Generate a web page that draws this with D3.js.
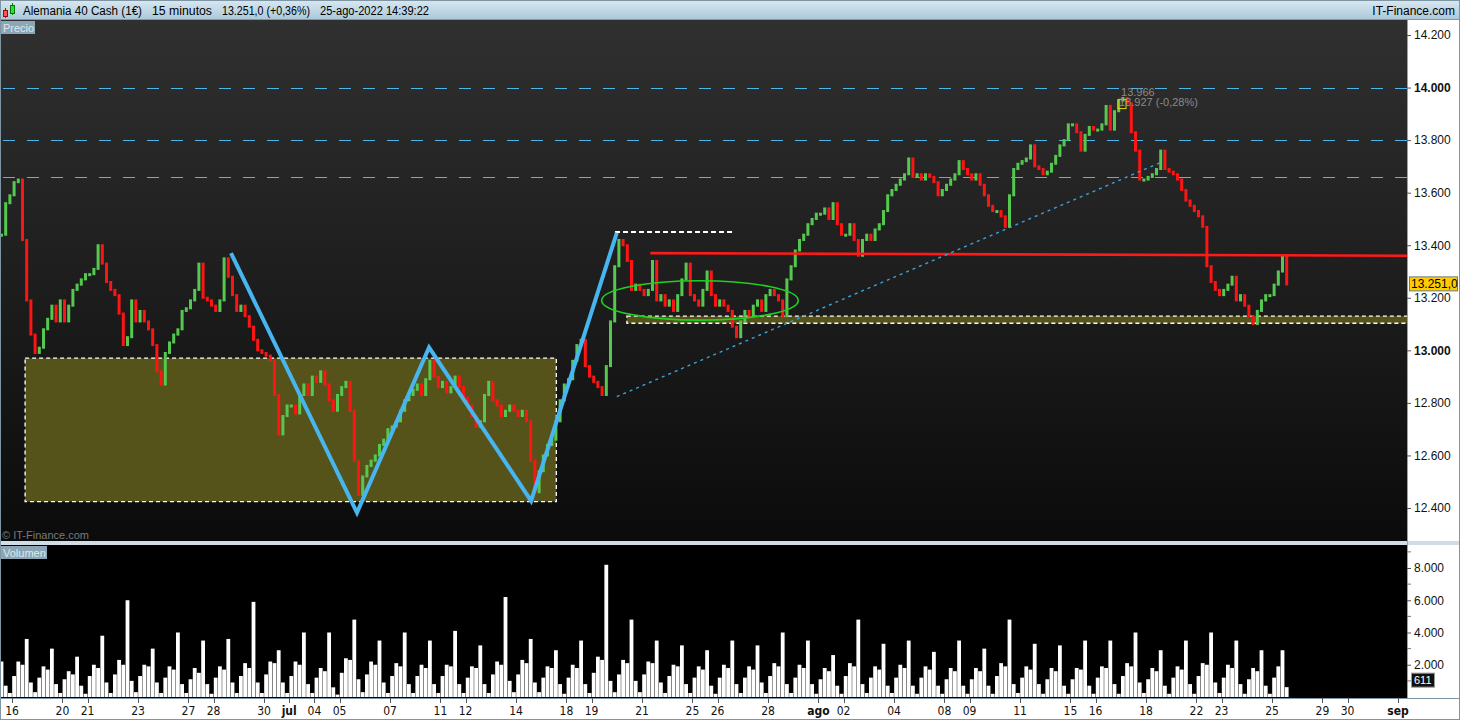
<!DOCTYPE html>
<html><head><meta charset="utf-8">
<script src="https://cdn.jsdelivr.net/npm/d3@7"></script>
<style>body{margin:0;background:#fff;overflow:hidden}svg{display:block;font-family:'Liberation Sans',Arial,sans-serif}</style>
</head><body><svg id="c" width="1460" height="720"></svg>
<script>
// ---------- DATA ----------
// trading days, index -1 = 15-jun (partial), 0 = 16-jun ... 50 = 25-ago (partial)
const firstDayIndex = -1;
const firstDayBarOffset = 3;          // 15-jun starts with its 4th slot
const barsPerDay = 6;
const priceCloses = [
  [13440,13560,13590],
  [13640,13650,13420,13190,13060,12990],
  [13010,13080,13120,13170,13110,13190],
  [13110,13170,13230,13250,13270,13290],
  [13290,13310,13400,13330,13260,13230],
  [13210,13140,13020,13050,13190,13110],
  [13150,13110,13080,13020,12920,12870],
  [12990,13030,13060,13080,13150,13160],
  [13190,13230,13330,13200,13190,13170],
  [13150,13190,13350,13280,13210,13150],
  [13170,13130,13090,13040,13000,12990],
  [12980,12960,12830,12680,12750,12790],
  [12790,12760,12830,12870,12830,12900],
  [12880,12920,12870,12810,12770,12830],
  [12860,12880,12770,12580,12450,12520],
  [12560,12580,12600,12640,12660,12700],
  [12710,12730,12770,12810,12830,12850],
  [12870,12830,12890,12960,12900,12860],
  [12880,12840,12860,12900,12860,12820],
  [12790,12750,12710,12730,12830,12880],
  [12810,12790,12750,12770,12790,12770],
  [12750,12770,12730,12580,12460,12540],
  [12600,12640,12660,12730,12810,12870],
  [12890,12960,13020,13040,12940,12900],
  [12880,12860,12830,12940,13110,13320],
  [13420,13400,13340,13230,13250,13230],
  [13210,13230,13340,13190,13210,13170],
  [13190,13150,13210,13270,13330,13210],
  [13190,13170,13230,13300,13210,13170],
  [13190,13170,13150,13090,13050,13110],
  [13150,13130,13170,13190,13150,13210],
  [13230,13210,13190,13130,13270,13320],
  [13380,13420,13440,13480,13500,13520],
  [13520,13540,13500,13560,13480,13440],
  [13440,13480,13420,13360,13420,13440],
  [13420,13460,13480,13530,13590,13610],
  [13630,13650,13670,13730,13660,13670],
  [13650,13670,13660,13640,13590,13610],
  [13630,13650,13670,13720,13690,13670],
  [13650,13670,13630,13590,13550,13530],
  [13530,13510,13470,13590,13690,13710],
  [13720,13730,13780,13700,13690,13670],
  [13680,13710,13740,13780,13800,13860],
  [13860,13830,13760,13820,13850,13840],
  [13840,13860,13930,13840,13910,13950],
  [13960,13940,13830,13760,13650,13650],
  [13660,13670,13690,13760,13690,13680],
  [13670,13650,13610,13570,13550,13530],
  [13510,13470,13320,13260,13230,13210],
  [13230,13250,13280,13190,13210,13170],
  [13130,13100,13150,13190,13210,13210],
  [13250,13300,13360,13251]
];
const volumeBars = [
  [2200,700,250],
  [1300,2200,2000,3600,900,300],
  [1200,1900,1700,3000,800,250],
  [1100,1600,1400,2500,700,200],
  [1300,2000,1800,3800,900,250],
  [1400,2300,2000,6000,1000,300],
  [1300,2000,1900,3000,900,250],
  [1200,1900,1700,4000,800,250],
  [1100,1800,1500,3500,800,200],
  [1200,1900,1700,3600,900,250],
  [1300,2100,1800,5900,900,250],
  [1400,2200,2100,2900,900,250],
  [1300,2200,2000,4000,800,250],
  [1200,1800,1600,4000,600,150],
  [1500,2400,2300,4800,1100,300],
  [1400,2200,2000,3500,900,250],
  [1300,2100,1900,4000,800,250],
  [1300,2000,1800,3500,800,250],
  [1300,2000,1900,4100,800,250],
  [1200,1900,1800,3200,800,250],
  [1400,2200,2000,6200,1000,300],
  [1400,2300,2100,3600,900,300],
  [1200,1900,1800,2900,800,200],
  [1200,2000,1800,3500,800,250],
  [1500,2500,2300,8200,1000,300],
  [1400,2300,2100,4800,1000,300],
  [1400,2200,2100,3500,900,250],
  [1300,2000,1900,3200,800,250],
  [1200,1900,1700,2900,700,200],
  [1200,2000,1800,3500,800,250],
  [1200,1900,1700,3200,900,250],
  [1300,2100,1900,4000,800,250],
  [1200,2000,1800,3500,800,200],
  [1100,1800,1600,2600,700,200],
  [1300,2100,1900,4800,800,250],
  [1200,1900,1700,3300,700,250],
  [1200,2000,1800,3500,700,200],
  [1200,1900,1700,2800,700,200],
  [1100,1800,1600,3500,700,200],
  [1100,1800,1600,3000,700,200],
  [1300,2100,1900,4800,800,250],
  [1200,1900,1700,3300,800,200],
  [1100,1800,1600,3200,700,200],
  [1100,1800,1700,3500,700,200],
  [1200,1900,1800,3500,800,200],
  [1300,2100,1900,4000,900,250],
  [1100,1800,1600,2900,700,200],
  [1200,1900,1700,3500,800,200],
  [1300,2100,2000,4000,900,250],
  [1200,2000,1800,3500,800,200],
  [1100,1800,1600,2900,700,200],
  [1200,1900,2900,611]
];
const tickDays  = [0,2,3,5,7,8,10,11,12,13,15,17,18,20,22,23,25,27,28,30,32,33,35,37,38,40,42,43,45,47,48,50,52,53,55];
const tickTexts = ["16","20","21","23","27","28","30","jul","04","05","07","11","12","14","18","19","21","25","26","28","ago","02","04","08","09","11","15","16","18","22","23","25","29","30","sep"];
const boldTicks = ["jul","ago","sep"];
const priceTicks = [12400,12600,12800,13000,13200,13400,13600,13800,14000,14200];
const volumeTicks = [2000,4000,6000,8000];
const volumeMinorTicks = [1000,3000,5000,7000,9000];
// drawings (day index, price)
const dashedLevels = [14000,13800,13660];
const zigzag = [[8.69,13370],[13.69,12382],[16.55,13011],[20.6,12427],[24.0,13447]];
const trendLine = [[24.0,12824],[45.56,13714]];
const resistance = [[25.33,13370],[55.36,13360]];
const boxA = {d0:0.52, d1:21.6, p0:12970, p1:12424};
const boxB = {d0:24.4, d1:55.4, p0:13130, p1:13103};
const topDash = {d0:23.93, d1:28.6, p:13450};
const ellipse = {dc:27.3, pc:13190, d0:23.4, p0:13265};
const peakNote = {d:44.05, hi:"13.966", lo:"13.927 (-0,28%)", pBox0:13955, pBox1:13920};
const lastPrice = 13251.0, lastVolume = 611;
const header = ["Alemania 40 Cash (1€)","15 minutos","13.251,0 (+0,36%)","25-ago-2022 14:39:22"];
const headerX = [23,152,222,320];
const headerW = [119,60,88,109];

// ---------- SCALES ----------
const W=1460, plotR=1407;
const x = d3.scaleLinear().domain([-0.476,55.357]).range([0,plotR]);
const yP = d3.scaleLinear().domain([12400,14200]).range([508,35]);
const yV = d3.scaleLinear().domain([0,8000]).range([697,568]);
const svg = d3.select("#c");
const defs = svg.append("defs");
const g1 = defs.append("linearGradient").attr("id","bg").attr("x1",0).attr("y1",0).attr("x2",0).attr("y2",1);
g1.append("stop").attr("offset","0").attr("stop-color","#303030");
g1.append("stop").attr("offset","1").attr("stop-color","#0b0b0b");
const g2 = defs.append("linearGradient").attr("id","hd").attr("x1",0).attr("y1",0).attr("x2",0).attr("y2",1);
g2.append("stop").attr("offset","0").attr("stop-color","#d8e8f1");
g2.append("stop").attr("offset","1").attr("stop-color","#a9c8da");
defs.append("clipPath").attr("id","cp").append("rect").attr("x",0).attr("y",20).attr("width",plotR).attr("height",521);
defs.append("clipPath").attr("id","cv").append("rect").attr("x",0).attr("y",545).attr("width",plotR).attr("height",153);

// frame
svg.append("rect").attr("width",W).attr("height",720).attr("fill","#fff");
svg.append("rect").attr("x",0).attr("y",20).attr("width",plotR).attr("height",521).attr("fill","url(#bg)");
svg.append("rect").attr("x",0).attr("y",541).attr("width",W).attr("height",4).attr("fill","#cfdde6");
svg.append("rect").attr("x",0).attr("y",545).attr("width",plotR).attr("height",153).attr("fill","#000");
svg.append("line").attr("x1",0.5).attr("x2",0.5).attr("y1",20).attr("y2",698).attr("stroke","#8fa3b0");
svg.append("line").attr("x1",plotR+0.5).attr("x2",plotR+0.5).attr("y1",20).attr("y2",698).attr("stroke","#8fa3b0");

// header
svg.append("rect").attr("width",W).attr("height",20).attr("fill","url(#hd)");
svg.append("line").attr("x1",0).attr("x2",W).attr("y1",19.5).attr("y2",19.5).attr("stroke","#7d98a8");
svg.append("line").attr("x1",5.5).attr("x2",5.5).attr("y1",8).attr("y2",18).attr("stroke","#c00");
svg.append("rect").attr("x",3.5).attr("y",10.5).attr("width",4).attr("height",6).attr("fill","#f55").attr("stroke","#a00");
svg.append("line").attr("x1",12.5).attr("x2",12.5).attr("y1",3).attr("y2",15).attr("stroke","#080");
svg.append("rect").attr("x",10.5).attr("y",5.5).attr("width",4).attr("height",8).attr("fill","#3d3").attr("stroke","#070");
header.forEach((t,i)=>svg.append("text").attr("x",headerX[i]).attr("y",15).attr("font-size",12)
  .attr("textLength",headerW[i]).attr("lengthAdjust","spacingAndGlyphs").attr("fill","#000").text(t));
svg.append("text").attr("x",1455).attr("y",15).attr("text-anchor","end").attr("font-size",12).attr("fill","#000").text("IT-Finance.com");

// price plot
const P = svg.append("g").attr("clip-path","url(#cp)");
P.selectAll(".lv").data(dashedLevels).join("line").attr("x1",3).attr("x2",plotR)
  .attr("y1",d=>Math.round(yP(d))+0.5).attr("y2",d=>Math.round(yP(d))+0.5)
  .attr("stroke","#4db5ea").attr("stroke-width",1.2).attr("stroke-dasharray","12,12");
function box(b){
  P.append("rect").attr("x",x(b.d0)).attr("y",yP(b.p0)).attr("width",x(b.d1)-x(b.d0)).attr("height",yP(b.p1)-yP(b.p0))
   .attr("fill","#56531a").attr("stroke","#fff").attr("stroke-width",1.3).attr("stroke-dasharray","4,3");
}
box(boxA); box(boxB);

// candles
const bars=[];
let prev=null;
priceCloses.forEach((day,j)=>{
  const di=firstDayIndex+j;
  const off=j===0?firstDayBarOffset:0;
  day.forEach((c,k)=>{
    const o=prev===null?c:prev;
    bars.push({t:di+(k+off+0.5)/barsPerDay,o:o,c:c});
    prev=c;
  });
});
P.selectAll(".cd").data(bars).join("rect")
  .attr("x",d=>x(d.t)-1.5).attr("width",3)
  .attr("y",d=>yP(Math.max(d.o,d.c))-1)
  .attr("height",d=>Math.max(3,Math.abs(yP(d.o)-yP(d.c))+2))
  .attr("fill",d=>d.c>=d.o?"#55c94f":"#ff1414");

P.append("line").attr("x1",x(topDash.d0)).attr("x2",x(topDash.d1)).attr("y1",yP(topDash.p)).attr("y2",yP(topDash.p))
  .attr("stroke","#fff").attr("stroke-width",2).attr("stroke-dasharray","5,3");
P.append("line").attr("x1",x(resistance[0][0])).attr("y1",yP(resistance[0][1])).attr("x2",x(resistance[1][0])).attr("y2",yP(resistance[1][1]))
  .attr("stroke","#ff1a1a").attr("stroke-width",2.6);
P.append("ellipse").attr("cx",x(ellipse.dc)).attr("cy",yP(ellipse.pc)).attr("rx",x(ellipse.dc)-x(ellipse.d0)).attr("ry",yP(ellipse.pc)-yP(ellipse.p0))
  .attr("fill","none").attr("stroke","#20cf20").attr("stroke-width",1.6);
P.append("line").attr("x1",x(trendLine[0][0])).attr("y1",yP(trendLine[0][1])).attr("x2",x(trendLine[1][0])).attr("y2",yP(trendLine[1][1]))
  .attr("stroke","#3aa2dc").attr("stroke-width",1.4).attr("stroke-dasharray","3,4");
P.append("path").attr("d",d3.line().x(d=>x(d[0])).y(d=>yP(d[1]))(zigzag))
  .attr("fill","none").attr("stroke","#47b6f0").attr("stroke-width",4).attr("stroke-linejoin","miter");
P.append("rect").attr("x",x(peakNote.d)-4).attr("y",yP(peakNote.pBox0)).attr("width",8).attr("height",yP(peakNote.pBox1)-yP(peakNote.pBox0))
  .attr("fill","none").attr("stroke","#e8d800").attr("stroke-width",1);
P.append("text").attr("x",x(peakNote.d)-1).attr("y",96).attr("font-size",11).attr("fill","#8a8a8a").text(peakNote.hi);
P.append("text").attr("x",x(peakNote.d)-3).attr("y",106).attr("font-size",11).attr("fill","#8a8a8a").text(peakNote.lo);

// labels
svg.append("rect").attr("x",1).attr("y",21).attr("width",34).attr("height",13).attr("fill","#8ba6b6");
svg.append("text").attr("x",3).attr("y",31.5).attr("font-size",11).attr("fill","#dde7ed").text("Precio");
svg.append("text").attr("x",2).attr("y",539).attr("font-size",11).attr("fill","#7a7a7a").text("© IT-Finance.com");
svg.append("rect").attr("x",1).attr("y",546).attr("width",46).attr("height",13).attr("fill","#8ba6b6");
svg.append("text").attr("x",3).attr("y",556.5).attr("font-size",11).attr("fill","#dde7ed").text("Volumen");

// volume
const vb=[];
volumeBars.forEach((day,j)=>{
  const di=firstDayIndex+j;
  const off=j===0?firstDayBarOffset:0;
  day.forEach((v,k)=>vb.push({t:di+(k+off+0.5)/barsPerDay,v:v}));
});
svg.append("g").attr("clip-path","url(#cv)").selectAll("rect").data(vb).join("rect")
  .attr("x",d=>x(d.t)-1.9).attr("width",3.8).attr("y",d=>yV(d.v)).attr("height",d=>yV(0)-yV(d.v)).attr("fill","#fff");

// price axis
const fmt = d=>d3.format(",")(d).replace(/,/g,".");
const ax = svg.append("g").attr("transform",`translate(${plotR},0)`)
  .call(d3.axisRight(yP).tickValues(priceTicks).tickSize(4).tickFormat(fmt));
ax.select(".domain").remove();
ax.selectAll("line").attr("stroke","#555");
ax.selectAll("text").attr("x",7).attr("font-size",12).attr("fill","#111").attr("font-family","'Liberation Sans',Arial,sans-serif")
  .attr("font-weight",d=>d%1000===0?"bold":"normal");
const av = svg.append("g").attr("transform",`translate(${plotR},0)`)
  .call(d3.axisRight(yV).tickValues(volumeTicks).tickSize(4).tickFormat(fmt));
av.select(".domain").remove();
av.selectAll("line").attr("stroke","#555");
av.selectAll("text").attr("x",7).attr("font-size",12).attr("fill","#111").attr("font-family","'Liberation Sans',Arial,sans-serif");
svg.append("g").selectAll("line").data(volumeMinorTicks).join("line").attr("x1",plotR).attr("x2",plotR+4)
  .attr("y1",d=>yV(d)).attr("y2",d=>yV(d)).attr("stroke","#777");

svg.append("rect").attr("x",1409.5).attr("y",yP(lastPrice)-7.5).attr("width",48).attr("height",14).attr("fill","#ffcc00").attr("stroke","#6a7a86");
svg.append("text").attr("x",1411).attr("y",yP(lastPrice)+4).attr("font-size",12).attr("fill","#000").text(d3.format(".1f")(lastPrice).replace(/(\d)(\d{3})\./,"$1.$2,"));
svg.append("rect").attr("x",1411.5).attr("y",yV(lastVolume)-14).attr("width",23).attr("height",14).attr("fill","#111").attr("stroke","#999");
svg.append("text").attr("x",1414).attr("y",yV(lastVolume)-3).attr("font-size",11).attr("fill","#fff").text(lastVolume);

// time axis
svg.append("line").attr("x1",0).attr("x2",W).attr("y1",698.5).attr("y2",698.5).attr("stroke","#7f95a3");
const tg = svg.append("g");
tickDays.forEach((d,i)=>{
  tg.append("line").attr("x1",Math.round(x(d))+0.5).attr("x2",Math.round(x(d))+0.5).attr("y1",698).attr("y2",703).attr("stroke","#555");
  tg.append("text").attr("x",x(d)).attr("y",715).attr("text-anchor","middle")
    .attr("font-family","'Liberation Sans Narrow','DejaVu Sans Condensed',Arial,sans-serif")
    .attr("font-size",12).attr("font-weight",boldTicks.includes(tickTexts[i])?"bold":"normal").attr("fill","#111").text(tickTexts[i]);
});
svg.append("rect").attr("x",0.5).attr("y",0.5).attr("width",W-1).attr("height",719).attr("fill","none").attr("stroke","#7f95a3");
</script></body></html>
